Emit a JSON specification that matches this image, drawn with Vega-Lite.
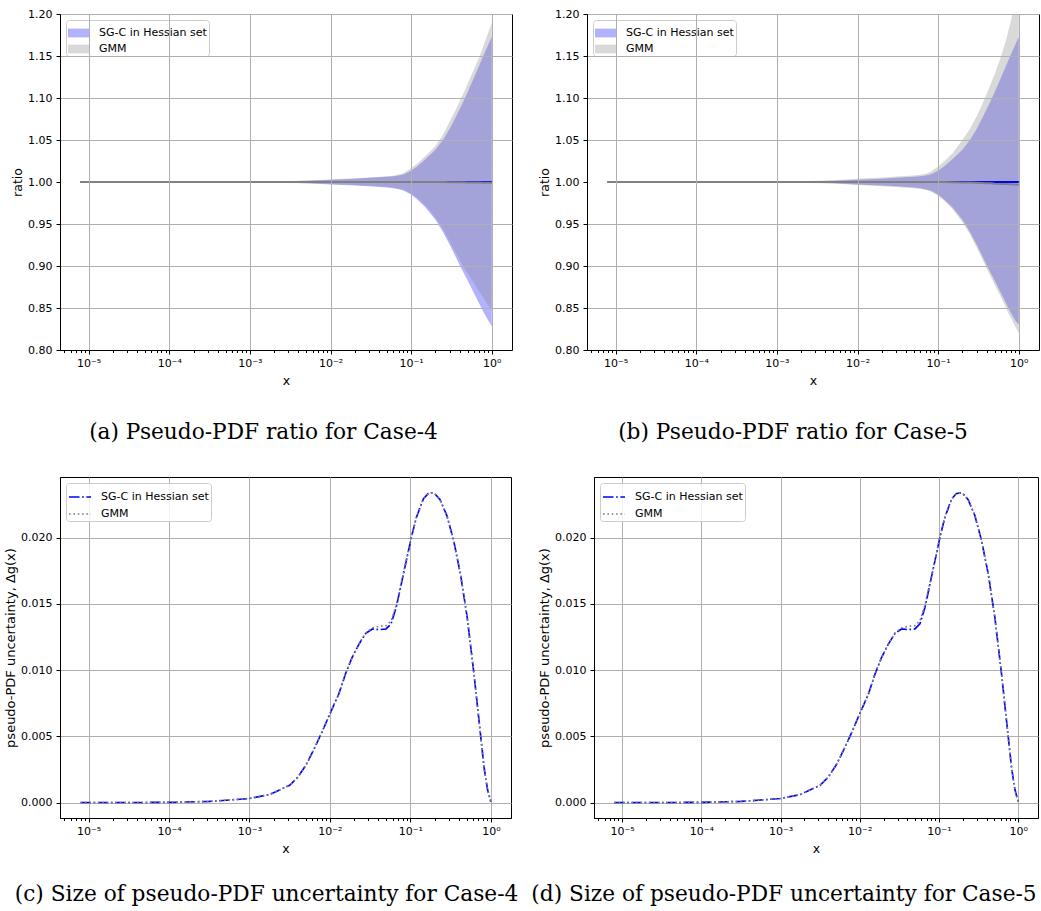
{
  "$schema": "https://vega.github.io/schema/vega-lite/v6.json",
  "background": "white",
  "padding": {"left": 4, "top": 7, "right": 0, "bottom": 0},
  "datasets": {
    "r4": [
      {"x": 7.94e-6, "series": "SG-C in Hessian set", "lo": 1, "hi": 1, "mid": 1},
      {"x": 1e-5, "series": "SG-C in Hessian set", "lo": 1, "hi": 1, "mid": 1},
      {"x": 3e-5, "series": "SG-C in Hessian set", "lo": 1, "hi": 1, "mid": 1},
      {"x": 1e-4, "series": "SG-C in Hessian set", "lo": 1, "hi": 1, "mid": 1},
      {"x": 3e-4, "series": "SG-C in Hessian set", "lo": 0.9999, "hi": 1.0001, "mid": 1},
      {"x": 1e-3, "series": "SG-C in Hessian set", "lo": 0.9997, "hi": 1.0003, "mid": 1},
      {"x": 2e-3, "series": "SG-C in Hessian set", "lo": 0.9994, "hi": 1.0006, "mid": 1},
      {"x": 5e-3, "series": "SG-C in Hessian set", "lo": 0.9985, "hi": 1.0015, "mid": 1},
      {"x": 1e-2, "series": "SG-C in Hessian set", "lo": 0.9971, "hi": 1.0028, "mid": 1},
      {"x": 2e-2, "series": "SG-C in Hessian set", "lo": 0.9958, "hi": 1.004, "mid": 1},
      {"x": 3e-2, "series": "SG-C in Hessian set", "lo": 0.9948, "hi": 1.005, "mid": 1},
      {"x": 5e-2, "series": "SG-C in Hessian set", "lo": 0.9934, "hi": 1.0062, "mid": 1},
      {"x": 6e-2, "series": "SG-C in Hessian set", "lo": 0.9926, "hi": 1.0068, "mid": 1},
      {"x": 7e-2, "series": "SG-C in Hessian set", "lo": 0.9914, "hi": 1.0078, "mid": 1},
      {"x": 8e-2, "series": "SG-C in Hessian set", "lo": 0.9898, "hi": 1.009, "mid": 1},
      {"x": 0.1, "series": "SG-C in Hessian set", "lo": 0.985, "hi": 1.0135, "mid": 1},
      {"x": 0.12, "series": "SG-C in Hessian set", "lo": 0.979, "hi": 1.019, "mid": 1},
      {"x": 0.15, "series": "SG-C in Hessian set", "lo": 0.97, "hi": 1.027, "mid": 1},
      {"x": 0.2, "series": "SG-C in Hessian set", "lo": 0.955, "hi": 1.0385, "mid": 1},
      {"x": 0.25, "series": "SG-C in Hessian set", "lo": 0.94, "hi": 1.0505, "mid": 1},
      {"x": 0.3, "series": "SG-C in Hessian set", "lo": 0.9255, "hi": 1.063, "mid": 1},
      {"x": 0.35, "series": "SG-C in Hessian set", "lo": 0.9125, "hi": 1.0755, "mid": 1},
      {"x": 0.4, "series": "SG-C in Hessian set", "lo": 0.901, "hi": 1.087, "mid": 1},
      {"x": 0.45, "series": "SG-C in Hessian set", "lo": 0.8915, "hi": 1.097, "mid": 1},
      {"x": 0.5, "series": "SG-C in Hessian set", "lo": 0.883, "hi": 1.1065, "mid": 1},
      {"x": 0.6, "series": "SG-C in Hessian set", "lo": 0.868, "hi": 1.124, "mid": 1},
      {"x": 0.7, "series": "SG-C in Hessian set", "lo": 0.855, "hi": 1.139, "mid": 1},
      {"x": 0.8, "series": "SG-C in Hessian set", "lo": 0.844, "hi": 1.152, "mid": 1},
      {"x": 0.9, "series": "SG-C in Hessian set", "lo": 0.8355, "hi": 1.163, "mid": 1},
      {"x": 1.0, "series": "SG-C in Hessian set", "lo": 0.828, "hi": 1.173, "mid": 1},
      {"x": 7.94e-6, "series": "GMM", "lo": 1, "hi": 1, "mid": 1},
      {"x": 1e-5, "series": "GMM", "lo": 1, "hi": 1, "mid": 1},
      {"x": 3e-5, "series": "GMM", "lo": 1, "hi": 1, "mid": 1},
      {"x": 1e-4, "series": "GMM", "lo": 1, "hi": 1, "mid": 1},
      {"x": 3e-4, "series": "GMM", "lo": 0.9999, "hi": 1.0001, "mid": 1},
      {"x": 1e-3, "series": "GMM", "lo": 0.9997, "hi": 1.0003, "mid": 1},
      {"x": 2e-3, "series": "GMM", "lo": 0.9994, "hi": 1.0007, "mid": 1},
      {"x": 5e-3, "series": "GMM", "lo": 0.9986, "hi": 1.0017, "mid": 1},
      {"x": 1e-2, "series": "GMM", "lo": 0.9975, "hi": 1.003, "mid": 1},
      {"x": 2e-2, "series": "GMM", "lo": 0.9963, "hi": 1.0045, "mid": 1},
      {"x": 3e-2, "series": "GMM", "lo": 0.9954, "hi": 1.0055, "mid": 1},
      {"x": 5e-2, "series": "GMM", "lo": 0.9942, "hi": 1.0068, "mid": 1},
      {"x": 6e-2, "series": "GMM", "lo": 0.9935, "hi": 1.0075, "mid": 1},
      {"x": 7e-2, "series": "GMM", "lo": 0.9924, "hi": 1.0088, "mid": 1},
      {"x": 8e-2, "series": "GMM", "lo": 0.991, "hi": 1.0105, "mid": 1},
      {"x": 0.1, "series": "GMM", "lo": 0.986, "hi": 1.0166, "mid": 1},
      {"x": 0.12, "series": "GMM", "lo": 0.981, "hi": 1.022, "mid": 1},
      {"x": 0.15, "series": "GMM", "lo": 0.972, "hi": 1.031, "mid": 1},
      {"x": 0.2, "series": "GMM", "lo": 0.958, "hi": 1.043, "mid": 0.9999},
      {"x": 0.25, "series": "GMM", "lo": 0.9436, "hi": 1.0568, "mid": 0.9999},
      {"x": 0.3, "series": "GMM", "lo": 0.9295, "hi": 1.0719, "mid": 0.9998},
      {"x": 0.35, "series": "GMM", "lo": 0.9176, "hi": 1.0846, "mid": 0.9997},
      {"x": 0.4, "series": "GMM", "lo": 0.9073, "hi": 1.096, "mid": 0.9996},
      {"x": 0.45, "series": "GMM", "lo": 0.8983, "hi": 1.1066, "mid": 0.9996},
      {"x": 0.5, "series": "GMM", "lo": 0.8915, "hi": 1.1166, "mid": 0.9995},
      {"x": 0.6, "series": "GMM", "lo": 0.8797, "hi": 1.134, "mid": 0.9994},
      {"x": 0.7, "series": "GMM", "lo": 0.8697, "hi": 1.1487, "mid": 0.9993},
      {"x": 0.8, "series": "GMM", "lo": 0.861, "hi": 1.164, "mid": 0.9992},
      {"x": 0.9, "series": "GMM", "lo": 0.8534, "hi": 1.1775, "mid": 0.9991},
      {"x": 1.0, "series": "GMM", "lo": 0.848, "hi": 1.19, "mid": 0.999}
    ],
    "r5": [
      {"x": 7.94e-6, "series": "SG-C in Hessian set", "lo": 1, "hi": 1, "mid": 1},
      {"x": 1e-5, "series": "SG-C in Hessian set", "lo": 1, "hi": 1, "mid": 1},
      {"x": 3e-5, "series": "SG-C in Hessian set", "lo": 1, "hi": 1, "mid": 1},
      {"x": 1e-4, "series": "SG-C in Hessian set", "lo": 1, "hi": 1, "mid": 1},
      {"x": 3e-4, "series": "SG-C in Hessian set", "lo": 0.9999, "hi": 1.0001, "mid": 1},
      {"x": 1e-3, "series": "SG-C in Hessian set", "lo": 0.9997, "hi": 1.0003, "mid": 1},
      {"x": 2e-3, "series": "SG-C in Hessian set", "lo": 0.9994, "hi": 1.0006, "mid": 1},
      {"x": 5e-3, "series": "SG-C in Hessian set", "lo": 0.9985, "hi": 1.0015, "mid": 1},
      {"x": 1e-2, "series": "SG-C in Hessian set", "lo": 0.9971, "hi": 1.0028, "mid": 1},
      {"x": 2e-2, "series": "SG-C in Hessian set", "lo": 0.9958, "hi": 1.004, "mid": 1},
      {"x": 3e-2, "series": "SG-C in Hessian set", "lo": 0.9948, "hi": 1.005, "mid": 1},
      {"x": 5e-2, "series": "SG-C in Hessian set", "lo": 0.9934, "hi": 1.0062, "mid": 1},
      {"x": 6e-2, "series": "SG-C in Hessian set", "lo": 0.9926, "hi": 1.0068, "mid": 1},
      {"x": 7e-2, "series": "SG-C in Hessian set", "lo": 0.9914, "hi": 1.0078, "mid": 1},
      {"x": 8e-2, "series": "SG-C in Hessian set", "lo": 0.9898, "hi": 1.009, "mid": 1},
      {"x": 0.1, "series": "SG-C in Hessian set", "lo": 0.985, "hi": 1.0135, "mid": 1},
      {"x": 0.12, "series": "SG-C in Hessian set", "lo": 0.979, "hi": 1.019, "mid": 1},
      {"x": 0.15, "series": "SG-C in Hessian set", "lo": 0.97, "hi": 1.027, "mid": 1},
      {"x": 0.2, "series": "SG-C in Hessian set", "lo": 0.955, "hi": 1.0385, "mid": 1},
      {"x": 0.25, "series": "SG-C in Hessian set", "lo": 0.94, "hi": 1.0505, "mid": 1},
      {"x": 0.3, "series": "SG-C in Hessian set", "lo": 0.9255, "hi": 1.063, "mid": 1},
      {"x": 0.35, "series": "SG-C in Hessian set", "lo": 0.9125, "hi": 1.0755, "mid": 1},
      {"x": 0.4, "series": "SG-C in Hessian set", "lo": 0.901, "hi": 1.087, "mid": 1},
      {"x": 0.45, "series": "SG-C in Hessian set", "lo": 0.8915, "hi": 1.097, "mid": 1},
      {"x": 0.5, "series": "SG-C in Hessian set", "lo": 0.883, "hi": 1.1065, "mid": 1},
      {"x": 0.6, "series": "SG-C in Hessian set", "lo": 0.868, "hi": 1.124, "mid": 1},
      {"x": 0.7, "series": "SG-C in Hessian set", "lo": 0.855, "hi": 1.139, "mid": 1},
      {"x": 0.8, "series": "SG-C in Hessian set", "lo": 0.844, "hi": 1.152, "mid": 1},
      {"x": 0.9, "series": "SG-C in Hessian set", "lo": 0.8355, "hi": 1.163, "mid": 1},
      {"x": 1.0, "series": "SG-C in Hessian set", "lo": 0.83, "hi": 1.173, "mid": 1},
      {"x": 7.94e-6, "series": "GMM", "lo": 1, "hi": 1, "mid": 1},
      {"x": 1e-5, "series": "GMM", "lo": 1, "hi": 1, "mid": 1},
      {"x": 3e-5, "series": "GMM", "lo": 1, "hi": 1, "mid": 1},
      {"x": 1e-4, "series": "GMM", "lo": 1, "hi": 1, "mid": 1},
      {"x": 3e-4, "series": "GMM", "lo": 0.9999, "hi": 1.0001, "mid": 1},
      {"x": 1e-3, "series": "GMM", "lo": 0.9997, "hi": 1.0003, "mid": 1},
      {"x": 2e-3, "series": "GMM", "lo": 0.9992, "hi": 1.0008, "mid": 1},
      {"x": 5e-3, "series": "GMM", "lo": 0.9981, "hi": 1.002, "mid": 1},
      {"x": 1e-2, "series": "GMM", "lo": 0.9965, "hi": 1.0038, "mid": 1},
      {"x": 2e-2, "series": "GMM", "lo": 0.995, "hi": 1.0055, "mid": 1},
      {"x": 3e-2, "series": "GMM", "lo": 0.994, "hi": 1.0065, "mid": 1},
      {"x": 5e-2, "series": "GMM", "lo": 0.9925, "hi": 1.0078, "mid": 1},
      {"x": 6e-2, "series": "GMM", "lo": 0.9918, "hi": 1.0085, "mid": 1},
      {"x": 7e-2, "series": "GMM", "lo": 0.9906, "hi": 1.0098, "mid": 1},
      {"x": 8e-2, "series": "GMM", "lo": 0.989, "hi": 1.0118, "mid": 1},
      {"x": 0.1, "series": "GMM", "lo": 0.9835, "hi": 1.0185, "mid": 1},
      {"x": 0.12, "series": "GMM", "lo": 0.977, "hi": 1.025, "mid": 0.9999},
      {"x": 0.15, "series": "GMM", "lo": 0.968, "hi": 1.034, "mid": 0.9998},
      {"x": 0.2, "series": "GMM", "lo": 0.952, "hi": 1.05, "mid": 0.9995},
      {"x": 0.25, "series": "GMM", "lo": 0.937, "hi": 1.064, "mid": 0.9993},
      {"x": 0.3, "series": "GMM", "lo": 0.922, "hi": 1.078, "mid": 0.999},
      {"x": 0.35, "series": "GMM", "lo": 0.909, "hi": 1.092, "mid": 0.9988},
      {"x": 0.4, "series": "GMM", "lo": 0.897, "hi": 1.105, "mid": 0.9986},
      {"x": 0.45, "series": "GMM", "lo": 0.887, "hi": 1.117, "mid": 0.9984},
      {"x": 0.5, "series": "GMM", "lo": 0.878, "hi": 1.128, "mid": 0.998},
      {"x": 0.6, "series": "GMM", "lo": 0.863, "hi": 1.149, "mid": 0.9977},
      {"x": 0.7, "series": "GMM", "lo": 0.849, "hi": 1.17, "mid": 0.9975},
      {"x": 0.8, "series": "GMM", "lo": 0.838, "hi": 1.192, "mid": 0.9972},
      {"x": 0.9, "series": "GMM", "lo": 0.828, "hi": 1.214, "mid": 0.997},
      {"x": 1.0, "series": "GMM", "lo": 0.82, "hi": 1.235, "mid": 0.9967}
    ],
    "u": [
      {"x": 7.94e-6, "series": "SG-C in Hessian set", "dg": 0},
      {"x": 1e-5, "series": "SG-C in Hessian set", "dg": 0},
      {"x": 1e-4, "series": "SG-C in Hessian set", "dg": 0.000005},
      {"x": 3.16e-4, "series": "SG-C in Hessian set", "dg": 0.00008},
      {"x": 1e-3, "series": "SG-C in Hessian set", "dg": 0.0003},
      {"x": 1.78e-3, "series": "SG-C in Hessian set", "dg": 0.0006},
      {"x": 3.16e-3, "series": "SG-C in Hessian set", "dg": 0.0013},
      {"x": 3.98e-3, "series": "SG-C in Hessian set", "dg": 0.0019},
      {"x": 5.01e-3, "series": "SG-C in Hessian set", "dg": 0.0028},
      {"x": 6.31e-3, "series": "SG-C in Hessian set", "dg": 0.004},
      {"x": 7.94e-3, "series": "SG-C in Hessian set", "dg": 0.0053},
      {"x": 1e-2, "series": "SG-C in Hessian set", "dg": 0.0067},
      {"x": 1.29e-2, "series": "SG-C in Hessian set", "dg": 0.0082},
      {"x": 1.56e-2, "series": "SG-C in Hessian set", "dg": 0.0097},
      {"x": 1.89e-2, "series": "SG-C in Hessian set", "dg": 0.01096},
      {"x": 2.3e-2, "series": "SG-C in Hessian set", "dg": 0.01196},
      {"x": 2.79e-2, "series": "SG-C in Hessian set", "dg": 0.01277},
      {"x": 3.38e-2, "series": "SG-C in Hessian set", "dg": 0.0131},
      {"x": 4.1e-2, "series": "SG-C in Hessian set", "dg": 0.01305},
      {"x": 4.98e-2, "series": "SG-C in Hessian set", "dg": 0.0131},
      {"x": 5.75e-2, "series": "SG-C in Hessian set", "dg": 0.01348},
      {"x": 6.67e-2, "series": "SG-C in Hessian set", "dg": 0.01474},
      {"x": 7.71e-2, "series": "SG-C in Hessian set", "dg": 0.0165},
      {"x": 8.91e-2, "series": "SG-C in Hessian set", "dg": 0.01826},
      {"x": 0.103, "series": "SG-C in Hessian set", "dg": 0.02003},
      {"x": 0.119, "series": "SG-C in Hessian set", "dg": 0.02154},
      {"x": 0.145, "series": "SG-C in Hessian set", "dg": 0.02292},
      {"x": 0.165, "series": "SG-C in Hessian set", "dg": 0.0233},
      {"x": 0.184, "series": "SG-C in Hessian set", "dg": 0.02338},
      {"x": 0.205, "series": "SG-C in Hessian set", "dg": 0.02325},
      {"x": 0.234, "series": "SG-C in Hessian set", "dg": 0.02285},
      {"x": 0.284, "series": "SG-C in Hessian set", "dg": 0.02166},
      {"x": 0.345, "series": "SG-C in Hessian set", "dg": 0.01977},
      {"x": 0.419, "series": "SG-C in Hessian set", "dg": 0.01725},
      {"x": 0.508, "series": "SG-C in Hessian set", "dg": 0.01398},
      {"x": 0.617, "series": "SG-C in Hessian set", "dg": 0.0097},
      {"x": 0.713, "series": "SG-C in Hessian set", "dg": 0.00617},
      {"x": 0.824, "series": "SG-C in Hessian set", "dg": 0.00264},
      {"x": 0.908, "series": "SG-C in Hessian set", "dg": 0.001},
      {"x": 1.0, "series": "SG-C in Hessian set", "dg": 0.00005},
      {"x": 7.94e-6, "series": "GMM", "dg": 0},
      {"x": 1e-5, "series": "GMM", "dg": 0},
      {"x": 1e-4, "series": "GMM", "dg": 0.000005},
      {"x": 3.16e-4, "series": "GMM", "dg": 0.00008},
      {"x": 1e-3, "series": "GMM", "dg": 0.0003},
      {"x": 1.78e-3, "series": "GMM", "dg": 0.0006},
      {"x": 3.16e-3, "series": "GMM", "dg": 0.0013},
      {"x": 3.98e-3, "series": "GMM", "dg": 0.0019},
      {"x": 5.01e-3, "series": "GMM", "dg": 0.0028},
      {"x": 6.31e-3, "series": "GMM", "dg": 0.004},
      {"x": 7.94e-3, "series": "GMM", "dg": 0.0053},
      {"x": 1e-2, "series": "GMM", "dg": 0.0067},
      {"x": 1.29e-2, "series": "GMM", "dg": 0.0082},
      {"x": 1.56e-2, "series": "GMM", "dg": 0.0097},
      {"x": 1.89e-2, "series": "GMM", "dg": 0.01096},
      {"x": 2.3e-2, "series": "GMM", "dg": 0.01196},
      {"x": 2.79e-2, "series": "GMM", "dg": 0.0128},
      {"x": 3.38e-2, "series": "GMM", "dg": 0.01318},
      {"x": 4.1e-2, "series": "GMM", "dg": 0.0133},
      {"x": 4.98e-2, "series": "GMM", "dg": 0.01335},
      {"x": 5.75e-2, "series": "GMM", "dg": 0.0137},
      {"x": 6.67e-2, "series": "GMM", "dg": 0.0149},
      {"x": 7.71e-2, "series": "GMM", "dg": 0.0166},
      {"x": 8.91e-2, "series": "GMM", "dg": 0.01832},
      {"x": 0.103, "series": "GMM", "dg": 0.02005},
      {"x": 0.119, "series": "GMM", "dg": 0.02155},
      {"x": 0.145, "series": "GMM", "dg": 0.02292},
      {"x": 0.165, "series": "GMM", "dg": 0.0233},
      {"x": 0.184, "series": "GMM", "dg": 0.02338},
      {"x": 0.205, "series": "GMM", "dg": 0.02325},
      {"x": 0.234, "series": "GMM", "dg": 0.02285},
      {"x": 0.284, "series": "GMM", "dg": 0.02166},
      {"x": 0.345, "series": "GMM", "dg": 0.01977},
      {"x": 0.419, "series": "GMM", "dg": 0.01725},
      {"x": 0.508, "series": "GMM", "dg": 0.01398},
      {"x": 0.617, "series": "GMM", "dg": 0.0097},
      {"x": 0.713, "series": "GMM", "dg": 0.00617},
      {"x": 0.824, "series": "GMM", "dg": 0.00264},
      {"x": 0.908, "series": "GMM", "dg": 0.001},
      {"x": 1.0, "series": "GMM", "dg": 0.00005}
    ]
  },
  "config": {
    "view": {"stroke": "#000000", "strokeWidth": 1},
    "font": "DejaVu Sans",
    "axis": {
      "labelFont": "DejaVu Sans", "labelFontSize": 11, "labelColor": "#000000",
      "titleFont": "DejaVu Sans", "titleFontSize": 12.5, "titleFontWeight": "normal", "titleColor": "#000000",
      "domainColor": "#000000", "tickColor": "#000000", "gridColor": "#b0b0b0", "gridWidth": 1,
      "tickSize": 4, "labelPadding": 3, "titlePadding": 3, "labelFlush": false, "labelOverlap": false
    },
    "axisX": {"titlePadding": 6},
    "legend": {
      "orient": "top-left", "offset": 6, "labelFont": "DejaVu Sans", "labelFontSize": 11, "labelColor": "#000000",
      "fillColor": "rgba(255,255,255,0.8)", "strokeColor": "#cccccc", "cornerRadius": 3, "padding": 2,
      "labelOffset": 9
    }
  },
  "spacing": 32,
  "resolve": {"scale": {"color": "independent", "strokeDash": "independent"}, "legend": {"color": "independent", "strokeDash": "independent"}},
  "vconcat": [
    {
      "spacing": 25,
      "resolve": {"scale": {"color": "independent"}, "legend": {"color": "independent"}},
      "hconcat": [
        {
          "width": 452, "height": 336,
          "title": {"text": "(a) Pseudo-PDF ratio for Case-4", "orient": "bottom", "anchor": "middle", "frame": "group", "dx": -22.5, "offset": 35, "font": "DejaVu Serif", "fontSize": 21.7, "fontWeight": "normal", "color": "#000000"},
          "data": {"name": "r4"},
          "encoding": {
            "x": {"field": "x", "type": "quantitative", "title": "x",
              "scale": {"type": "log", "domain": [4.42e-6, 1.78], "nice": false},
              "axis": {"zindex": 1,
                "values": [5e-6, 6e-6, 7e-6, 8e-6, 9e-6, 1e-5, 2e-5, 3e-5, 4e-5, 5e-5, 6e-5, 7e-5, 8e-5, 9e-5, 1e-4, 2e-4, 3e-4, 4e-4, 5e-4, 6e-4, 7e-4, 8e-4, 9e-4, 1e-3, 2e-3, 3e-3, 4e-3, 5e-3, 6e-3, 7e-3, 8e-3, 9e-3, 1e-2, 2e-2, 3e-2, 4e-2, 5e-2, 6e-2, 7e-2, 8e-2, 9e-2, 0.1, 0.2, 0.3, 0.4, 0.5, 0.6, 0.7, 0.8, 0.9, 1],
                "labelExpr": "abs(log(datum.value)/LN10 - round(log(datum.value)/LN10)) > 0.000001 ? '' : (round(log(datum.value)/LN10) == 0 ? '10⁰' : '10⁻' + ['⁰','¹','²','³','⁴','⁵','⁶'][-round(log(datum.value)/LN10)])",
                "tickSize": {"condition": {"test": "abs(log(datum.value)/LN10 - round(log(datum.value)/LN10)) < 0.000001", "value": 4}, "value": 2.5},
                "gridOpacity": {"condition": {"test": "abs(log(datum.value)/LN10 - round(log(datum.value)/LN10)) < 0.000001", "value": 1}, "value": 0}
              }
            }
          },
          "layer": [
            {
              "transform": [{"filter": "datum.series == 'SG-C in Hessian set'"}],
              "mark": {"type": "area", "opacity": 0.3, "clip": true},
              "encoding": {
                "y": {"field": "lo", "type": "quantitative", "title": "ratio",
                  "scale": {"domain": [0.8, 1.2], "nice": false, "zero": false},
                  "axis": {"zindex": 1, "values": [0.8, 0.85, 0.9, 0.95, 1.0, 1.05, 1.1, 1.15, 1.2], "format": ".2f", "labelPadding": 4,
                    "gridOpacity": {"condition": {"test": "abs(datum.value - 1) < 0.0001", "value": 0}, "value": 1}}},
                "y2": {"field": "hi"},
                "color": {"field": "series", "type": "nominal",
                  "scale": {"domain": ["SG-C in Hessian set", "GMM"], "range": ["#0000ff", "#808080"]},
                  "legend": {"title": null, "symbolType": "M-1,-0.4L1,-0.4L1,0.4L-1,0.4Z", "symbolSize": 484, "symbolOpacity": 0.3, "symbolStrokeWidth": 0, "rowPadding": -8}}
              }
            },
            {
              "transform": [{"filter": "datum.series == 'GMM'"}],
              "mark": {"type": "area", "opacity": 0.3, "clip": true},
              "encoding": {
                "y": {"field": "lo", "type": "quantitative", "title": "ratio"},
                "y2": {"field": "hi"},
                "color": {"field": "series", "type": "nominal"}
              }
            },
            {
              "transform": [{"filter": "datum.series == 'SG-C in Hessian set'"}],
              "mark": {"type": "line", "color": "#0000ff", "strokeWidth": 2, "clip": true},
              "encoding": {"y": {"field": "mid", "type": "quantitative", "title": "ratio"}}
            },
            {
              "transform": [{"filter": "datum.series == 'GMM'"}],
              "mark": {"type": "line", "color": "#808080", "strokeWidth": 2, "clip": true},
              "encoding": {"y": {"field": "mid", "type": "quantitative", "title": "ratio"}}
            }
          ]
        },
        {
          "width": 452, "height": 336,
          "title": {"text": "(b) Pseudo-PDF ratio for Case-5", "orient": "bottom", "anchor": "middle", "frame": "group", "dx": -20, "offset": 35, "font": "DejaVu Serif", "fontSize": 21.7, "fontWeight": "normal", "color": "#000000"},
          "data": {"name": "r5"},
          "encoding": {
            "x": {"field": "x", "type": "quantitative", "title": "x",
              "scale": {"type": "log", "domain": [4.42e-6, 1.78], "nice": false},
              "axis": {"zindex": 1,
                "values": [5e-6, 6e-6, 7e-6, 8e-6, 9e-6, 1e-5, 2e-5, 3e-5, 4e-5, 5e-5, 6e-5, 7e-5, 8e-5, 9e-5, 1e-4, 2e-4, 3e-4, 4e-4, 5e-4, 6e-4, 7e-4, 8e-4, 9e-4, 1e-3, 2e-3, 3e-3, 4e-3, 5e-3, 6e-3, 7e-3, 8e-3, 9e-3, 1e-2, 2e-2, 3e-2, 4e-2, 5e-2, 6e-2, 7e-2, 8e-2, 9e-2, 0.1, 0.2, 0.3, 0.4, 0.5, 0.6, 0.7, 0.8, 0.9, 1],
                "labelExpr": "abs(log(datum.value)/LN10 - round(log(datum.value)/LN10)) > 0.000001 ? '' : (round(log(datum.value)/LN10) == 0 ? '10⁰' : '10⁻' + ['⁰','¹','²','³','⁴','⁵','⁶'][-round(log(datum.value)/LN10)])",
                "tickSize": {"condition": {"test": "abs(log(datum.value)/LN10 - round(log(datum.value)/LN10)) < 0.000001", "value": 4}, "value": 2.5},
                "gridOpacity": {"condition": {"test": "abs(log(datum.value)/LN10 - round(log(datum.value)/LN10)) < 0.000001", "value": 1}, "value": 0}
              }
            }
          },
          "layer": [
            {
              "transform": [{"filter": "datum.series == 'SG-C in Hessian set'"}],
              "mark": {"type": "area", "opacity": 0.3, "clip": true},
              "encoding": {
                "y": {"field": "lo", "type": "quantitative", "title": "ratio",
                  "scale": {"domain": [0.8, 1.2], "nice": false, "zero": false},
                  "axis": {"zindex": 1, "values": [0.8, 0.85, 0.9, 0.95, 1.0, 1.05, 1.1, 1.15, 1.2], "format": ".2f", "labelPadding": 4,
                    "gridOpacity": {"condition": {"test": "abs(datum.value - 1) < 0.0001", "value": 0}, "value": 1}}},
                "y2": {"field": "hi"},
                "color": {"field": "series", "type": "nominal",
                  "scale": {"domain": ["SG-C in Hessian set", "GMM"], "range": ["#0000ff", "#808080"]},
                  "legend": {"title": null, "symbolType": "M-1,-0.4L1,-0.4L1,0.4L-1,0.4Z", "symbolSize": 484, "symbolOpacity": 0.3, "symbolStrokeWidth": 0, "rowPadding": -8}}
              }
            },
            {
              "transform": [{"filter": "datum.series == 'GMM'"}],
              "mark": {"type": "area", "opacity": 0.3, "clip": true},
              "encoding": {
                "y": {"field": "lo", "type": "quantitative", "title": "ratio"},
                "y2": {"field": "hi"},
                "color": {"field": "series", "type": "nominal"}
              }
            },
            {
              "transform": [{"filter": "datum.series == 'SG-C in Hessian set'"}],
              "mark": {"type": "line", "color": "#0000ff", "strokeWidth": 2, "clip": true},
              "encoding": {"y": {"field": "mid", "type": "quantitative", "title": "ratio"}}
            },
            {
              "transform": [{"filter": "datum.series == 'GMM'"}],
              "mark": {"type": "line", "color": "#808080", "strokeWidth": 2, "clip": true},
              "encoding": {"y": {"field": "mid", "type": "quantitative", "title": "ratio"}}
            }
          ]
        }
      ]
    },
    {
      "spacing": 11,
      "resolve": {"scale": {"color": "independent", "strokeDash": "independent"}, "legend": {"color": "independent", "strokeDash": "independent"}},
      "hconcat": [
        {
          "width": 451, "height": 341,
          "title": {"text": "(c) Size of pseudo-PDF uncertainty for Case-4", "orient": "bottom", "anchor": "middle", "frame": "group", "dx": -19, "offset": 29, "font": "DejaVu Serif", "fontSize": 21.7, "fontWeight": "normal", "color": "#000000"},
          "data": {"name": "u"},
          "encoding": {
            "x": {"field": "x", "type": "quantitative", "title": "x",
              "scale": {"type": "log", "domain": [4.42e-6, 1.78], "nice": false},
              "axis": {
                "values": [5e-6, 6e-6, 7e-6, 8e-6, 9e-6, 1e-5, 2e-5, 3e-5, 4e-5, 5e-5, 6e-5, 7e-5, 8e-5, 9e-5, 1e-4, 2e-4, 3e-4, 4e-4, 5e-4, 6e-4, 7e-4, 8e-4, 9e-4, 1e-3, 2e-3, 3e-3, 4e-3, 5e-3, 6e-3, 7e-3, 8e-3, 9e-3, 1e-2, 2e-2, 3e-2, 4e-2, 5e-2, 6e-2, 7e-2, 8e-2, 9e-2, 0.1, 0.2, 0.3, 0.4, 0.5, 0.6, 0.7, 0.8, 0.9, 1],
                "labelExpr": "abs(log(datum.value)/LN10 - round(log(datum.value)/LN10)) > 0.000001 ? '' : (round(log(datum.value)/LN10) == 0 ? '10⁰' : '10⁻' + ['⁰','¹','²','³','⁴','⁵','⁶'][-round(log(datum.value)/LN10)])",
                "tickSize": {"condition": {"test": "abs(log(datum.value)/LN10 - round(log(datum.value)/LN10)) < 0.000001", "value": 4}, "value": 2.5},
                "gridOpacity": {"condition": {"test": "abs(log(datum.value)/LN10 - round(log(datum.value)/LN10)) < 0.000001", "value": 1}, "value": 0}
              }
            },
            "y": {"field": "dg", "type": "quantitative", "title": "pseudo-PDF uncertainty, Δg(x)",
              "scale": {"domain": [-0.00117, 0.02457], "nice": false, "zero": false},
              "axis": {"values": [0, 0.005, 0.01, 0.015, 0.02], "format": ".3f", "labelPadding": 4, "titleFontSize": 13}},
            "color": {"field": "series", "type": "nominal",
              "scale": {"domain": ["SG-C in Hessian set", "GMM"], "range": ["#0000ff", "#808080"]},
              "legend": {"title": null, "symbolType": "stroke", "symbolSize": 484, "symbolStrokeWidth": 1.65, "rowPadding": -8}},
            "strokeDash": {"field": "series", "type": "nominal",
              "scale": {"domain": ["SG-C in Hessian set", "GMM"], "range": [[10.5, 2.6, 1.65, 2.6], [1.65, 2.7]]},
              "legend": {"title": null}}
          },
          "layer": [
            {
              "transform": [{"filter": "datum.series == 'SG-C in Hessian set'"}],
              "mark": {"type": "line", "strokeWidth": 1.65, "clip": true}
            },
            {
              "transform": [{"filter": "datum.series == 'GMM'"}],
              "mark": {"type": "line", "strokeWidth": 1.65, "clip": true}
            }
          ]
        },
        {
          "width": 444, "height": 341,
          "title": {"text": "(d) Size of pseudo-PDF uncertainty for Case-5", "orient": "bottom", "anchor": "middle", "frame": "group", "dx": -32, "offset": 29, "font": "DejaVu Serif", "fontSize": 21.7, "fontWeight": "normal", "color": "#000000"},
          "data": {"name": "u"},
          "encoding": {
            "x": {"field": "x", "type": "quantitative", "title": "x",
              "scale": {"type": "log", "domain": [4.42e-6, 1.78], "nice": false},
              "axis": {
                "values": [5e-6, 6e-6, 7e-6, 8e-6, 9e-6, 1e-5, 2e-5, 3e-5, 4e-5, 5e-5, 6e-5, 7e-5, 8e-5, 9e-5, 1e-4, 2e-4, 3e-4, 4e-4, 5e-4, 6e-4, 7e-4, 8e-4, 9e-4, 1e-3, 2e-3, 3e-3, 4e-3, 5e-3, 6e-3, 7e-3, 8e-3, 9e-3, 1e-2, 2e-2, 3e-2, 4e-2, 5e-2, 6e-2, 7e-2, 8e-2, 9e-2, 0.1, 0.2, 0.3, 0.4, 0.5, 0.6, 0.7, 0.8, 0.9, 1],
                "labelExpr": "abs(log(datum.value)/LN10 - round(log(datum.value)/LN10)) > 0.000001 ? '' : (round(log(datum.value)/LN10) == 0 ? '10⁰' : '10⁻' + ['⁰','¹','²','³','⁴','⁵','⁶'][-round(log(datum.value)/LN10)])",
                "tickSize": {"condition": {"test": "abs(log(datum.value)/LN10 - round(log(datum.value)/LN10)) < 0.000001", "value": 4}, "value": 2.5},
                "gridOpacity": {"condition": {"test": "abs(log(datum.value)/LN10 - round(log(datum.value)/LN10)) < 0.000001", "value": 1}, "value": 0}
              }
            },
            "y": {"field": "dg", "type": "quantitative", "title": "pseudo-PDF uncertainty, Δg(x)",
              "scale": {"domain": [-0.00117, 0.02457], "nice": false, "zero": false},
              "axis": {"values": [0, 0.005, 0.01, 0.015, 0.02], "format": ".3f", "labelPadding": 4, "titleFontSize": 13}},
            "color": {"field": "series", "type": "nominal",
              "scale": {"domain": ["SG-C in Hessian set", "GMM"], "range": ["#0000ff", "#808080"]},
              "legend": {"title": null, "symbolType": "stroke", "symbolSize": 484, "symbolStrokeWidth": 1.65, "rowPadding": -8}},
            "strokeDash": {"field": "series", "type": "nominal",
              "scale": {"domain": ["SG-C in Hessian set", "GMM"], "range": [[10.5, 2.6, 1.65, 2.6], [1.65, 2.7]]},
              "legend": {"title": null}}
          },
          "layer": [
            {
              "transform": [{"filter": "datum.series == 'SG-C in Hessian set'"}],
              "mark": {"type": "line", "strokeWidth": 1.65, "clip": true}
            },
            {
              "transform": [{"filter": "datum.series == 'GMM'"}],
              "mark": {"type": "line", "strokeWidth": 1.65, "clip": true}
            }
          ]
        }
      ]
    }
  ]
}
